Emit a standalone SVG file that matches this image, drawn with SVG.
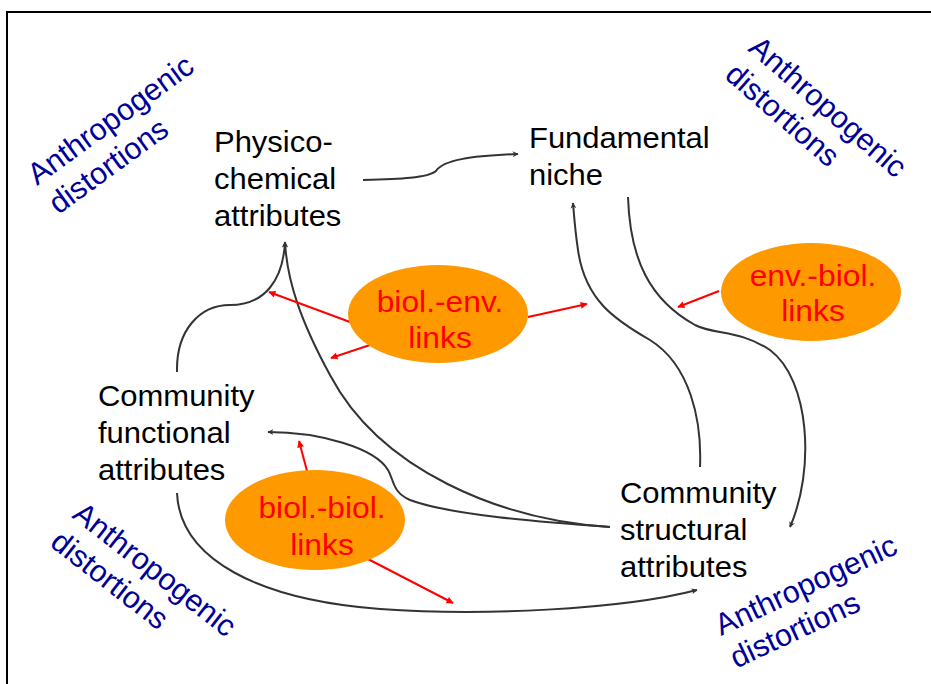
<svg xmlns="http://www.w3.org/2000/svg" width="931" height="684" viewBox="0 0 931 684">
<defs>
<style>
.t{font-family:"Liberation Sans",Arial,sans-serif;font-size:29.5px;fill:#000}
.r{font-family:"Liberation Sans",Arial,sans-serif;font-size:30px;fill:#FF0000;text-anchor:middle}
.b{font-family:"Liberation Sans",Arial,sans-serif;font-size:30.5px;fill:#000099}
.c{fill:none;stroke:#333;stroke-width:2}
.rl{fill:none;stroke:#FF0000;stroke-width:2}
.e{fill:#FF9900}
</style>
<marker id="ah" viewBox="0 0 10 10" refX="9" refY="5" markerWidth="6" markerHeight="6" orient="auto" markerUnits="userSpaceOnUse">
<path d="M0,0 L10,5 L0,10 L3,5 z" fill="#333"/>
</marker>
<marker id="ar" viewBox="0 0 10 10" refX="9" refY="5" markerWidth="8" markerHeight="7" orient="auto" markerUnits="userSpaceOnUse">
<path d="M0,0 L10,5 L0,10 z" fill="#FF0000"/>
</marker>
</defs>
<rect x="0" y="0" width="931" height="684" fill="#fff"/>
<rect x="7" y="12" width="940" height="700" fill="none" stroke="#000" stroke-width="2"/>

<g id="connectors">
<path class="c" marker-end="url(#ah)" d="M363,180 C400,179 428,178 436,171 C443,160 470,156 518,154"/>
<path class="c" marker-end="url(#ah)" d="M177,372 C176,330 200,305 230,305 C265,305 283,280 285,242"/>
<path class="c" marker-end="url(#ah)" d="M610,527 C500,520 380,470 330,375 C300,320 287,280 285,242"/>
<path class="c" marker-end="url(#ah)" d="M610,527 C540,522 450,515 410,500 C392,492 394,480 388,470 C375,448 320,432 268,432"/>
<path class="c" marker-end="url(#ah)" d="M177,493 C180,560 260,600 380,609 C480,616 620,610 697,590"/>
<path class="c" marker-end="url(#ah)" d="M700,467 C702,420 690,365 650,340 C615,320 585,300 578,250 C575,230 574,215 573,203"/>
<path class="c" marker-end="url(#ah)" d="M628,197 C630,260 650,300 695,325 C715,335 740,330 770,350 C810,380 815,470 790,527"/>
<path class="rl" marker-end="url(#ar)" d="M350,322 L269,292"/>
<path class="rl" marker-end="url(#ar)" d="M370,345 L331,358"/>
<path class="rl" marker-end="url(#ar)" d="M528,317 L587,304"/>
<path class="rl" marker-end="url(#ar)" d="M719,291 L678,307"/>
<path class="rl" marker-end="url(#ar)" d="M307,471 L299,441"/>
<path class="rl" marker-end="url(#ar)" d="M366,558 L453,603"/>
</g>

<g id="physico" transform="matrix(1.05 0 0 1 -10.7 0)">
<text class="t" x="214" y="152">Physico-</text>
<text class="t" x="214" y="189">chemical</text>
<text class="t" x="214" y="226">attributes</text>
</g>
<g id="niche" transform="matrix(1.05 0 0 1 -26.45 0)">
<text class="t" x="529" y="148">Fundamental</text>
<text class="t" x="529" y="185">niche</text>
</g>
<g id="functional" transform="matrix(1.05 0 0 1 -4.9 0)">
<text class="t" x="98" y="406">Community</text>
<text class="t" x="98" y="443">functional</text>
<text class="t" x="98" y="480">attributes</text>
</g>
<g id="structural" transform="matrix(1.05 0 0 1 -31 0)">
<text class="t" x="620" y="503">Community</text>
<text class="t" x="620" y="540">structural</text>
<text class="t" x="620" y="577">attributes</text>
</g>

<g id="biol-env">
<ellipse class="e" cx="438" cy="314" rx="90" ry="49"/>
<g transform="matrix(1.06 0 0 1 -26.4 0)">
<text class="r" x="440" y="312">biol.-env.</text>
<text class="r" x="440" y="348">links</text>
</g>
</g>
<g id="env-biol">
<ellipse class="e" cx="811" cy="292" rx="90" ry="49"/>
<g transform="matrix(1.06 0 0 1 -48.8 0)">
<text class="r" x="813" y="286">env.-biol.</text>
<text class="r" x="813" y="321">links</text>
</g>
</g>
<g id="biol-biol">
<ellipse class="e" cx="315" cy="520" rx="90" ry="50"/>
<g transform="matrix(1.06 0 0 1 -19.3 0)">
<text class="r" x="322" y="518">biol.-biol.</text>
<text class="r" x="322" y="555">links</text>
</g>
</g>

<g id="anthro-tl" transform="translate(37,186) rotate(-36)">
<text class="b" x="0" y="0">Anthropogenic</text>
<text class="b" x="0" y="36">distortions</text>
</g>
<g id="anthro-tr" transform="translate(747,50) rotate(41)">
<text class="b" x="0" y="0">Anthropogenic</text>
<text class="b" x="0" y="36">distortions</text>
</g>
<g id="anthro-bl" transform="translate(71,517) rotate(38)">
<text class="b" x="0" y="0">Anthropogenic</text>
<text class="b" x="0" y="36">distortions</text>
</g>
<g id="anthro-br" transform="translate(721,636) rotate(-25)">
<text class="b" x="0" y="0">Anthropogenic</text>
<text class="b" x="0" y="36">distortions</text>
</g>
</svg>
